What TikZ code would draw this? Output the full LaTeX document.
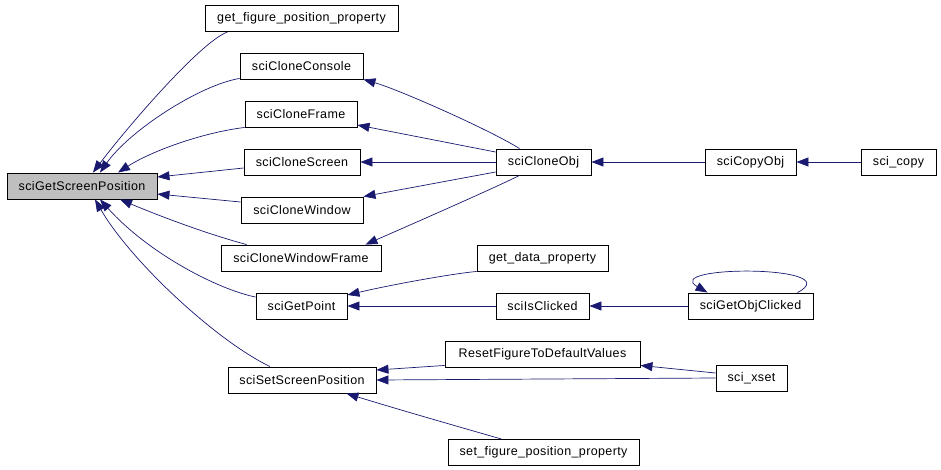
\documentclass[tikz,border=0pt]{standalone}
\usepackage{fontspec}
\setmainfont[LetterSpace=3]{Liberation Sans}
\usepackage{tikz}
\usetikzlibrary{arrows.meta}
\definecolor{dxnavy}{RGB}{25,25,112}
\definecolor{dxgray}{RGB}{191,191,191}

\begin{document}
\begin{tikzpicture}[x=1pt, y=-1pt,
  fn/.style={draw=black, line width=0.9pt, fill=white, inner sep=0pt,
    minimum height=26pt, font=\fontsize{12.5}{14}\selectfont},
  call/.style={draw=dxnavy, line width=0.7pt,
    -{Triangle[length=12pt, width=9pt]}}]

\useasboundingbox (0,0) rectangle (941,469);

% Functions
\node[fn, fill=dxgray, minimum width=150pt] (gsp) at (82,186) {sciGetScreenPosition};
\node[fn, minimum width=193pt] (gfpp) at (301.5,18.5) {get\_figure\_position\_property};
\node[fn, minimum width=123pt] (console) at (301.5,66) {sciCloneConsole};
\node[fn, minimum width=112pt] (frame) at (301,114) {sciCloneFrame};
\node[fn, minimum width=116pt] (screen) at (302,162) {sciCloneScreen};
\node[fn, minimum width=122pt] (window) at (302,210) {sciCloneWindow};
\node[fn, minimum width=160pt] (wframe) at (301,258) {sciCloneWindowFrame};
\node[fn, minimum width=91pt] (getpoint) at (301.5,306) {sciGetPoint};
\node[fn, minimum width=148pt] (setscreen) at (302,380) {sciSetScreenPosition};
\node[fn, minimum width=95pt] (cloneobj) at (543.5,162) {sciCloneObj};
\node[fn, minimum width=131pt] (gdp) at (542.5,258) {get\_data\_property};
\node[fn, minimum width=93pt] (isclicked) at (542.5,306) {sciIsClicked};
\node[fn, minimum width=195pt] (reset) at (542.5,354) {ResetFigureToDefaultValues};
\node[fn, minimum width=191pt] (sfpp) at (543.5,452.5) {set\_figure\_position\_property};
\node[fn, minimum width=91pt] (copyobj) at (750.5,162) {sciCopyObj};
\node[fn, minimum width=125pt] (objclicked) at (750.5,306) {sciGetObjClicked};
\node[fn, minimum width=71pt] (xset) at (751.5,378) {sci\_xset};
\node[fn, minimum width=75pt] (scicopy) at (898.5,162) {sci\_copy};

% Callers of sciGetScreenPosition
\draw[call] ([xshift=23]gfpp.south west) .. controls (200,42) and (125,130) .. ([xshift=11]gsp.north);
\draw[call] ([yshift=1]console.south west) .. controls (200,85) and (130,130) .. ([xshift=18]gsp.north);
\draw[call] (frame.south west) .. controls (200,133) and (150,152) .. ([xshift=36]gsp.north);
\draw[call] ([yshift=-6]screen.west) -- ([yshift=9]gsp.east);
\draw[call] ([yshift=8]window.west) -- ([yshift=-8]gsp.east);
\draw[call] ([xshift=26]wframe.north west) .. controls (200,232) and (150,212) .. ([xshift=38]gsp.south);
\draw[call] ([yshift=9]getpoint.west) .. controls (220,290) and (150,255) .. ([xshift=18]gsp.south);
\draw[call] ([xshift=-32]setscreen.north) .. controls (215,340) and (130,260) .. ([xshift=13]gsp.south);

% sciCloneObj
\draw[call] ([xshift=-24]cloneobj.north) .. controls (490,130) and (400,90) .. (console.south east);
\draw[call] ([yshift=10]cloneobj.west) -- ([yshift=-11]frame.east);
\draw[call] (cloneobj.west) -- (screen.east);
\draw[call] ([yshift=-10]cloneobj.west) -- (window.north east);
\draw[call] ([xshift=-24]cloneobj.south) .. controls (490,190) and (410,225) .. ([xshift=-16]wframe.north east);
\draw[call] (copyobj.west) -- (cloneobj.east);
\draw[call] (scicopy.west) -- (copyobj.east);

% sciGetPoint
\draw[call] (gdp.south west) .. controls (450,274) and (390,285) .. ([yshift=11]getpoint.east);
\draw[call] (isclicked.west) -- (getpoint.east);
\draw[call] (objclicked.west) -- (isclicked.east);
\draw[call] ([xshift=47]objclicked.north) .. controls (850,265) and (660,265) .. ([xshift=-43]objclicked.north);

% sciSetScreenPosition
\draw[call] ([yshift=2]reset.south west) -- ([yshift=10]setscreen.east);
\draw[call] (xset.west) -- (setscreen.east);
\draw[call] ([yshift=5]xset.west) -- ([yshift=2]reset.south east);
\draw[call] ([xshift=-42]sfpp.north) .. controls (470,430) and (400,410) .. ([xshift=-30]setscreen.south east);

\end{tikzpicture}
\end{document}
